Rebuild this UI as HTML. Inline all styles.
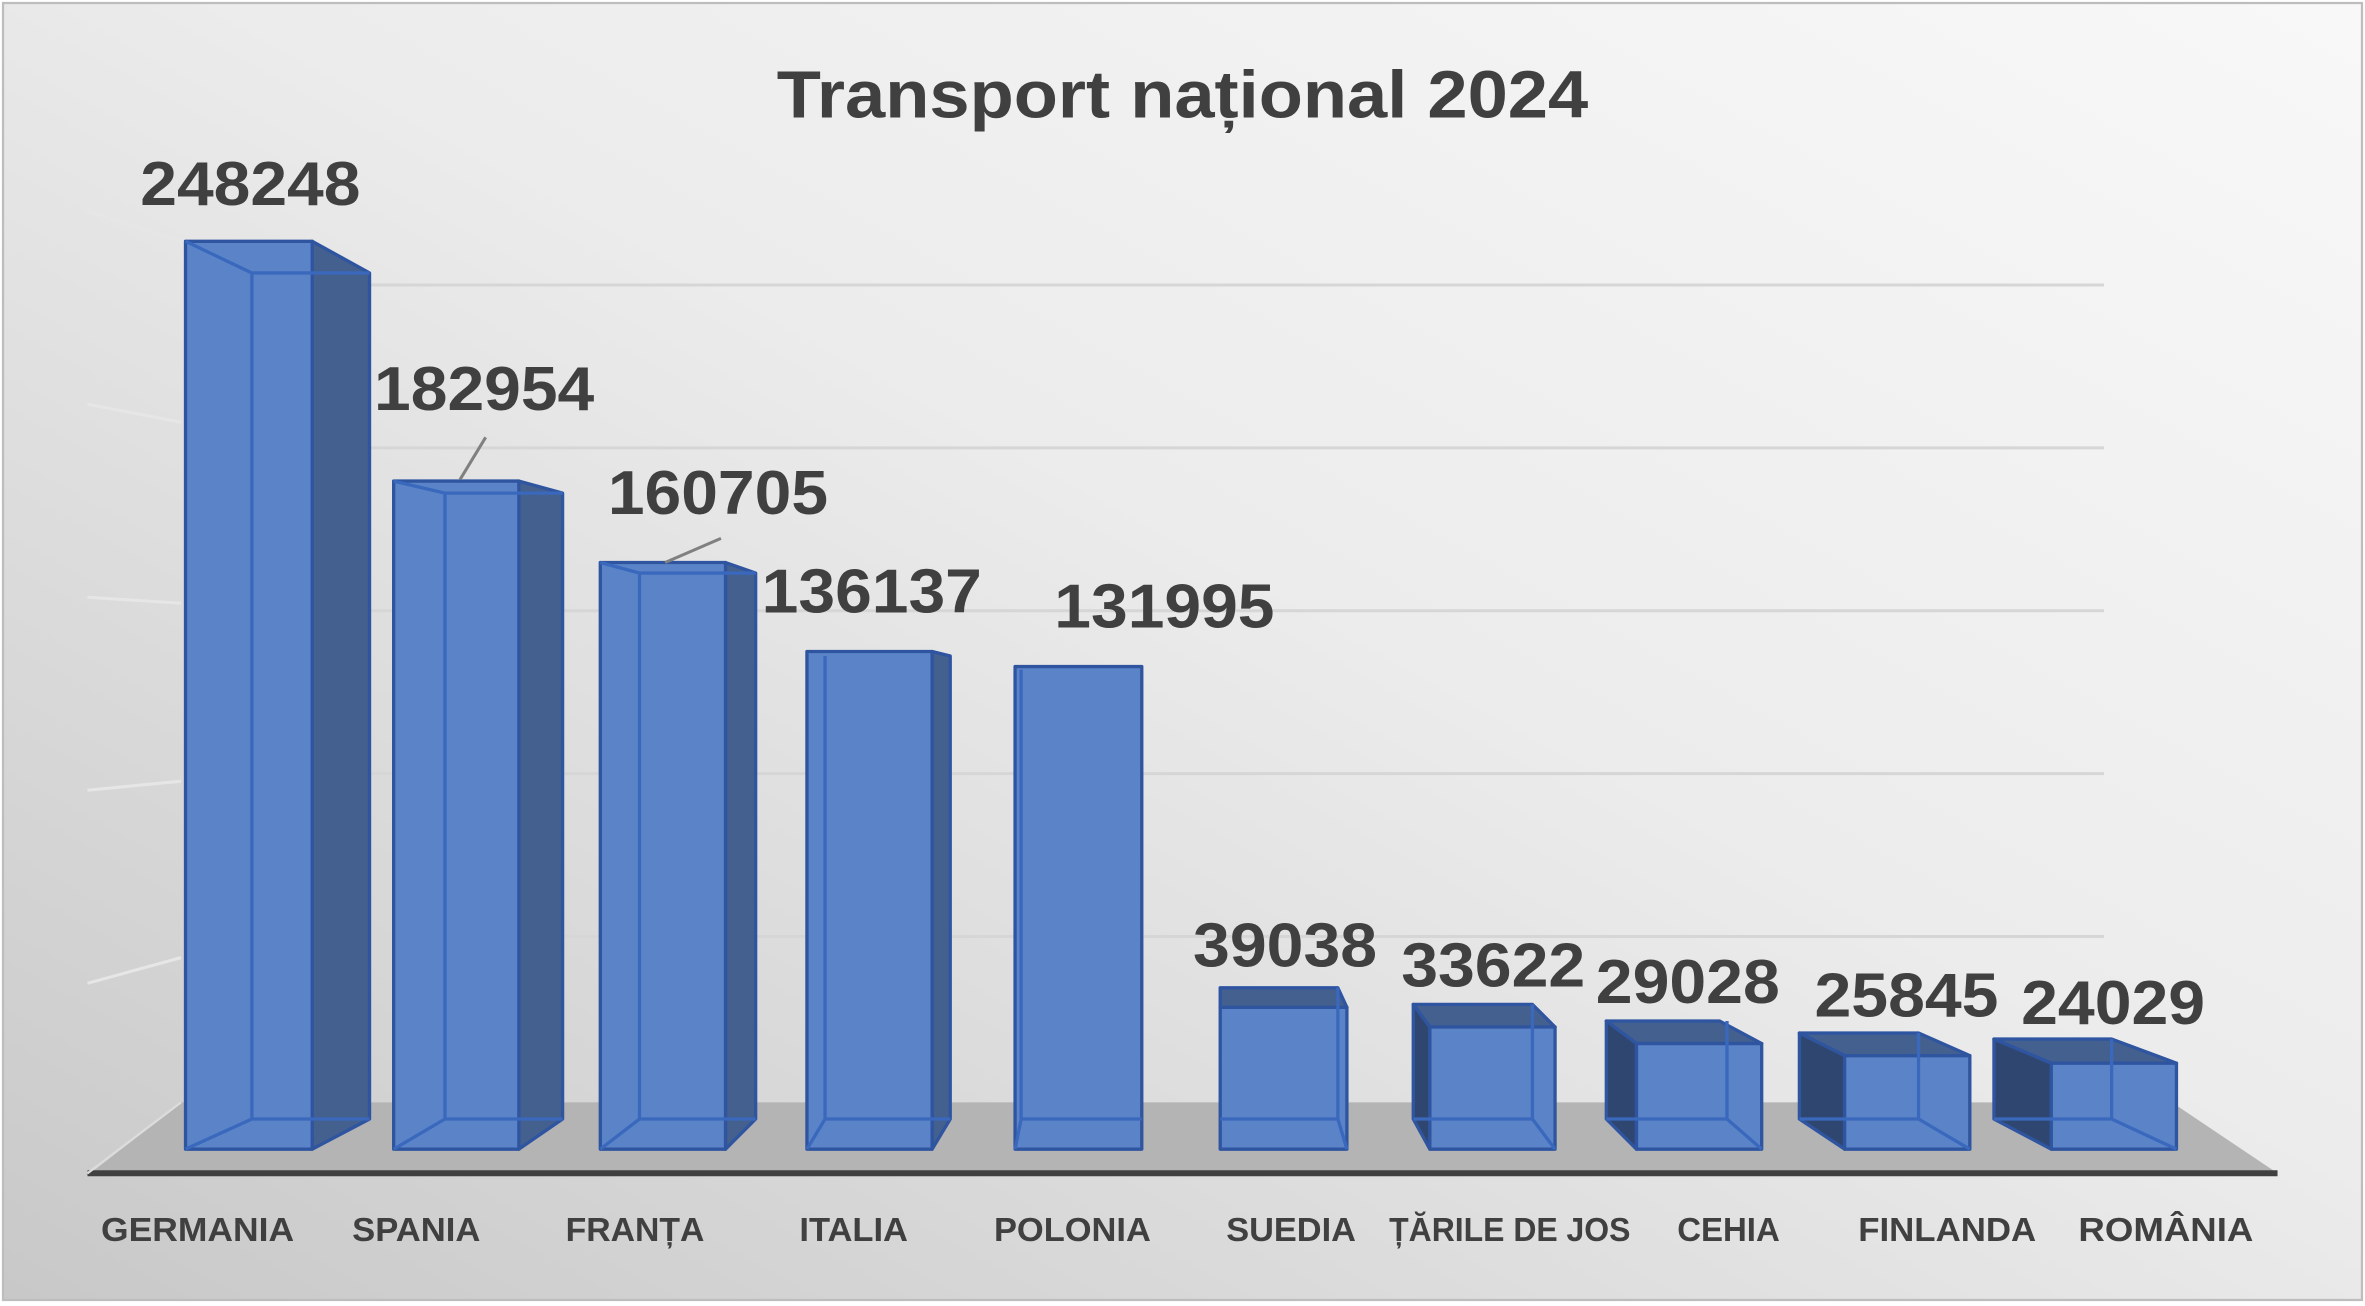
<!DOCTYPE html>
<html><head><meta charset="utf-8"><style>
html,body{margin:0;padding:0;background:#fff}
svg{display:block}
text{font-family:"Liberation Sans",sans-serif;font-weight:bold;fill:#404040}
</style></head><body>
<svg width="2365" height="1306" viewBox="0 0 1568 866" preserveAspectRatio="none">
<defs>
<linearGradient id="bg" x1="0" y1="1" x2="1" y2="0">
<stop offset="0" stop-color="#c8c8c8"/><stop offset="0.55" stop-color="#ececec"/><stop offset="1" stop-color="#f8f8f8"/>
</linearGradient>
</defs>
<rect x="0" y="0" width="1568" height="866" fill="#fff"/>
<rect x="2" y="2" width="1564" height="860" fill="url(#bg)" stroke="#bdbdbd" stroke-width="1.5"/>
<g stroke="#d6d6d6" stroke-width="2">
<line x1="245" y1="189" x2="1395" y2="189"/>
<line x1="245" y1="297" x2="1395" y2="297"/>
<line x1="245" y1="405" x2="1395" y2="405"/>
<line x1="245" y1="513" x2="1395" y2="513"/>
<line x1="245" y1="621" x2="1395" y2="621"/>
</g>
<g stroke="#e6e6e6" stroke-width="2">
<line x1="58" y1="140" x2="120" y2="160"/>
<line x1="58" y1="268" x2="120" y2="280"/>
<line x1="58" y1="396" x2="120" y2="400"/>
<line x1="58" y1="524" x2="120" y2="518"/>
<line x1="58" y1="652" x2="120" y2="635"/>
</g>
<polygon points="60,778 120,731 1440,731 1510,778" fill="#b4b4b4"/>
<line x1="58" y1="778" x2="1510" y2="778" stroke="#404040" stroke-width="4"/>
<line x1="58" y1="778" x2="120" y2="731" stroke="#dcdcdc" stroke-width="1.5"/>

<g stroke="#2f55a0" stroke-width="2.2" stroke-linejoin="round">
<!-- Germania -->
<polygon points="207,160 245,181 245,742 207,762" fill="#44608e"/>
<rect x="123" y="160" width="84" height="602" fill="#5b84c8"/>
<polyline points="123,160 167,181 245,181" fill="none" stroke="#3a68bc"/>
<line x1="167" y1="181" x2="167" y2="742" stroke="#3a68bc"/>
<polyline points="123,762 167,742 245,742" fill="none" stroke="#3a68bc"/>
<!-- Spania -->
<polygon points="344,319 373,327 373,742 344,762" fill="#44608e"/>
<rect x="261" y="319" width="83" height="443" fill="#5b84c8"/>
<polyline points="261,319 295,327 373,327" fill="none" stroke="#3a68bc"/>
<line x1="295" y1="327" x2="295" y2="742" stroke="#3a68bc"/>
<polyline points="261,762 295,742 373,742" fill="none" stroke="#3a68bc"/>
<!-- Franta -->
<polygon points="481,373 501,380 501,742 481,762" fill="#44608e"/>
<rect x="398" y="373" width="83" height="389" fill="#5b84c8"/>
<polyline points="398,373 424,380 501,380" fill="none" stroke="#3a68bc"/>
<line x1="424" y1="380" x2="424" y2="742" stroke="#3a68bc"/>
<polyline points="398,762 424,742 501,742" fill="none" stroke="#3a68bc"/>
<!-- Italia -->
<polygon points="618,432 630,435 630,742 618,762" fill="#44608e"/>
<rect x="535" y="432" width="83" height="330" fill="#5b84c8"/>
<line x1="547" y1="435" x2="547" y2="742" stroke="#3a68bc"/>
<polyline points="535,762 547,742 630,742" fill="none" stroke="#3a68bc"/>
<!-- Polonia -->
<rect x="673" y="442" width="84" height="320" fill="#5b84c8"/>
<line x1="677" y1="444" x2="677" y2="742" stroke="#3a68bc"/>
<polyline points="673,762 677,742 757,742" fill="none" stroke="#3a68bc"/>
<!-- Suedia -->
<polygon points="809,655 887,655 893,668 809,668" fill="#44608e"/>
<rect x="809" y="668" width="84" height="94" fill="#5b84c8"/>
<polyline points="809,742 887,742 893,762" fill="none" stroke="#3a68bc"/>
<line x1="887" y1="655" x2="887" y2="742" stroke="#3a68bc"/>
<!-- Tarile -->
<polygon points="937,666 1016,666 1031,681 948,681" fill="#44608e"/>
<polygon points="937,666 948,681 948,762 937,742" fill="#2f4770"/>
<rect x="948" y="681" width="83" height="81" fill="#5b84c8"/>
<polyline points="937,742 1016,742 1031,762" fill="none" stroke="#3a68bc"/>
<line x1="1016" y1="666" x2="1016" y2="742" stroke="#3a68bc"/>
<!-- Cehia -->
<polygon points="1065,677 1140,677 1168,692 1085,692" fill="#44608e"/>
<polygon points="1065,677 1085,692 1085,762 1065,742" fill="#2f4770"/>
<rect x="1085" y="692" width="83" height="70" fill="#5b84c8"/>
<polyline points="1065,742 1145,742 1168,762" fill="none" stroke="#3a68bc"/>
<line x1="1145" y1="677" x2="1145" y2="742" stroke="#3a68bc"/>
<!-- Finlanda -->
<polygon points="1193,685 1272,685 1306,700 1223,700" fill="#44608e"/>
<polygon points="1193,685 1223,700 1223,762 1193,742" fill="#2f4770"/>
<rect x="1223" y="700" width="83" height="62" fill="#5b84c8"/>
<polyline points="1193,742 1272,742 1306,762" fill="none" stroke="#3a68bc"/>
<line x1="1272" y1="685" x2="1272" y2="742" stroke="#3a68bc"/>
<!-- Romania -->
<polygon points="1322,689 1400,689 1443,705 1360,705" fill="#44608e"/>
<polygon points="1322,689 1360,705 1360,762 1322,742" fill="#2f4770"/>
<rect x="1360" y="705" width="83" height="57" fill="#5b84c8"/>
<polyline points="1322,742 1400,742 1443,762" fill="none" stroke="#3a68bc"/>
<line x1="1400" y1="689" x2="1400" y2="742" stroke="#3a68bc"/>
</g>
<g stroke="#808080" stroke-width="2">
<line x1="305" y1="318" x2="322" y2="290"/>
<line x1="441" y1="373" x2="478" y2="357"/>
</g>

<text x="784" y="78" font-size="44" text-anchor="middle" textLength="538" lengthAdjust="spacingAndGlyphs">Transport național 2024</text>
<g font-size="41" text-anchor="middle">
<text x="166" y="136" textLength="146" lengthAdjust="spacingAndGlyphs">248248</text>
<text x="321" y="272" textLength="146" lengthAdjust="spacingAndGlyphs">182954</text>
<text x="476" y="341" textLength="146" lengthAdjust="spacingAndGlyphs">160705</text>
<text x="578" y="406" textLength="146" lengthAdjust="spacingAndGlyphs">136137</text>
<text x="772" y="416" textLength="146" lengthAdjust="spacingAndGlyphs">131995</text>
<text x="852" y="641" textLength="122" lengthAdjust="spacingAndGlyphs">39038</text>
<text x="990" y="654" textLength="122" lengthAdjust="spacingAndGlyphs">33622</text>
<text x="1119" y="665" textLength="122" lengthAdjust="spacingAndGlyphs">29028</text>
<text x="1264" y="674" textLength="122" lengthAdjust="spacingAndGlyphs">25845</text>
<text x="1401" y="679" textLength="122" lengthAdjust="spacingAndGlyphs">24029</text>
</g>
<g font-size="22" text-anchor="middle">
<text x="131" y="823" textLength="128" lengthAdjust="spacingAndGlyphs">GERMANIA</text>
<text x="276" y="823" textLength="85" lengthAdjust="spacingAndGlyphs">SPANIA</text>
<text x="421" y="823" textLength="92" lengthAdjust="spacingAndGlyphs">FRANȚA</text>
<text x="566" y="823" textLength="72" lengthAdjust="spacingAndGlyphs">ITALIA</text>
<text x="711" y="823" textLength="104" lengthAdjust="spacingAndGlyphs">POLONIA</text>
<text x="856" y="823" textLength="86" lengthAdjust="spacingAndGlyphs">SUEDIA</text>
<text x="1001" y="823" textLength="160" lengthAdjust="spacingAndGlyphs">ȚĂRILE DE JOS</text>
<text x="1146" y="823" textLength="68" lengthAdjust="spacingAndGlyphs">CEHIA</text>
<text x="1291" y="823" textLength="118" lengthAdjust="spacingAndGlyphs">FINLANDA</text>
<text x="1436" y="823" textLength="116" lengthAdjust="spacingAndGlyphs">ROMÂNIA</text>
</g>
</svg>
</body></html>
